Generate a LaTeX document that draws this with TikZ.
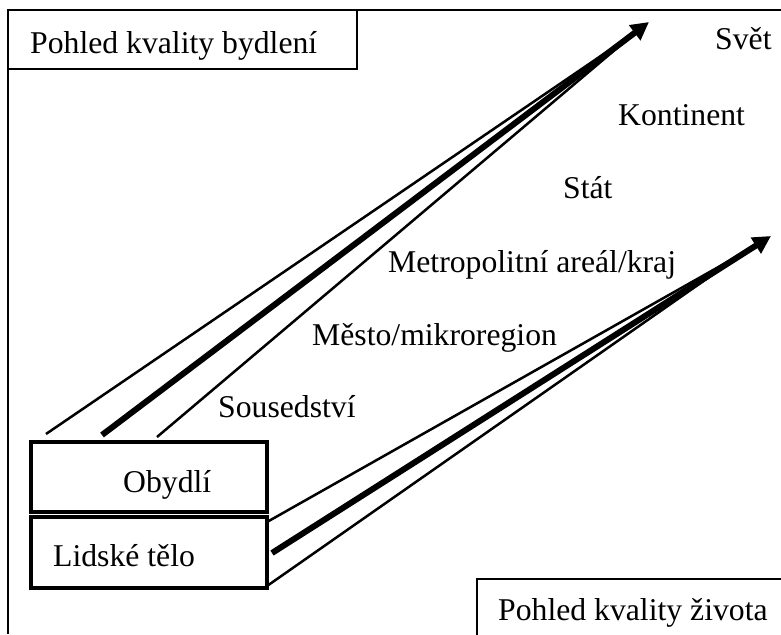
\documentclass[tikz,border=0pt]{standalone}
\usepackage{fontspec}
\setmainfont{Liberation Serif}
\usetikzlibrary{arrows.meta, calc}

\begin{document}
\begin{tikzpicture}[x=1pt, y=-1pt,
    lbl/.style={font=\fontsize{31.7}{38}\selectfont, inner sep=0pt, anchor=base west},
    frameline/.style={line width=2pt},
    levelbox/.style={line width=3.5pt},
    thinray/.style={line width=2.5pt},
    thickray/.style={line width=6pt, -{Triangle[length=18pt, width=18pt]}}]
    \useasboundingbox (0,0) rectangle (781,634);

    % housing view, title in the corner of the frame
    \draw[frameline] (8,634) -- (8,10) -- (781,10);
    \draw[frameline] (8,10) rectangle (357,69);
    \node[lbl] (bydleni) at (30,53) {Pohled kvality bydlení};

    % spatial levels
    \node[lbl] (svet) at (715,50) {Svět};
    \node[lbl] (kontinent) at (618,125) {Kontinent};
    \node[lbl] (stat) at (563,198) {Stát};
    \node[lbl] (metro) at (388,272) {Metropolitní areál/kraj};
    \node[lbl] (mesto) at (312,345) {Město/mikroregion};
    \node[lbl] (soused) at (218,417) {Sousedství};

    % dwelling and human body
    \draw[levelbox] (31,442) rectangle (267,512);
    \node[lbl] (obydli) at (123,492) {Obydlí};
    \draw[levelbox] (31,517) rectangle (267,588);
    \node[lbl] (telo) at (53,566) {Lidské tělo};

    % quality of life view
    \draw[line width=1.5pt] (477,640) -- (477,579) -- (790,579);
    \node[lbl] (zivot) at (498,620) {Pohled kvality života};

    % rays from the dwelling up to the world
    \coordinate (upA) at (46,434);
    \coordinate (upB) at (102,435);
    \coordinate (upC) at (157,437);
    \coordinate (upMeet) at (636,32);
    \coordinate (upTip) at (649,22);
    \draw[thinray] (upA) -- (upMeet);
    \draw[thickray] (upB) -- (upTip);
    \draw[thinray] (upC) -- (upMeet);

    % rays from the body
    \coordinate (lowA) at (267,522);
    \coordinate (lowB) at (272,553);
    \coordinate (lowC) at (267,586);
    \coordinate (lowMeet) at (745,252);
    \coordinate (lowTip) at (771,236);
    \draw[thinray] (lowA) -- (lowMeet);
    \draw[thickray] (lowB) -- (lowTip);
    \draw[thinray] (lowC) -- (lowMeet);
  \end{tikzpicture}
\end{document}
